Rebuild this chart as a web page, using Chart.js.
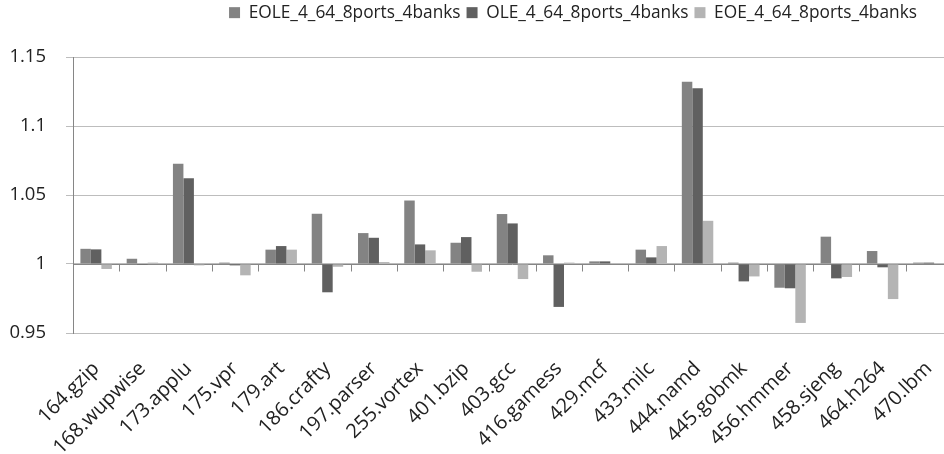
<!DOCTYPE html>
<html>
<head>
<meta charset="utf-8">
<script src="https://cdn.jsdelivr.net/npm/chart.js@4.4.1/dist/chart.umd.min.js"></script>
<style>
    html, body { margin: 0; padding: 0; background: #fff; overflow: hidden; }
    #wrap { width: 952px; height: 454px; }
</style>
</head>
<body>
<div id="wrap"><canvas id="chart"></canvas></div>
<script>
// categories (SPEC benchmarks)
const benchmarks = ['164.gzip', '168.wupwise', '173.applu', '175.vpr', '179.art', '186.crafty',
    '197.parser', '255.vortex', '401.bzip', '403.gcc', '416.gamess', '429.mcf', '433.milc',
    '444.namd', '445.gobmk', '456.hmmer', '458.sjeng', '464.h264', '470.lbm'];

// series values
const eole = [1.011, 1.0038, 1.0726, 1.001, 1.0104, 1.0364, 1.0224, 1.046, 1.0154, 1.0362,
    1.0063, 1.0019, 1.0104, 1.132, 1.001, 0.9828, 1.0198, 1.0094, 1.001];
const ole = [1.0106, 0.9993, 1.0622, 0.999, 1.013, 0.9795, 1.019, 1.0142, 1.0195, 1.0294,
    0.9689, 1.0019, 1.0048, 1.1274, 0.9874, 0.9824, 0.9896, 0.9976, 1.001];
const eoe = [0.9964, 1.001, 0.999, 0.9918, 1.0104, 0.998, 1.0014, 1.0099, 0.9944, 0.9891,
    1.001, 1.0, 1.013, 1.0313, 0.991, 0.9573, 0.9906, 0.9746, 1.0];

const seriesNames = ['EOLE_4_64_8ports_4banks', 'OLE_4_64_8ports_4banks', 'EOE_4_64_8ports_4banks'];
const yTickLabels = ['0.95', '1', '1.05', '1.1', '1.15'];

const FAMILY = "'Open Sans', sans-serif";

// axis line at 1 with tick marks between categories (category axis crosses at 1)
const crossAxis = {
    id: 'crossAxis',
    beforeDatasetsDraw(chart) {
        const { ctx, chartArea, scales: { x, y } } = chart;
        const y1 = Math.round(y.getPixelForValue(1)) + 0.5;
        ctx.save();
        ctx.strokeStyle = '#868686';
        ctx.lineWidth = 1;
        ctx.beginPath();
        ctx.moveTo(chartArea.left, y1);
        ctx.lineTo(chartArea.right, y1);
        for (let i = 1; i < benchmarks.length; i++) {
            const xp = Math.round((x.getPixelForValue(i - 1) + x.getPixelForValue(i)) / 2) + 0.5;
            ctx.moveTo(xp, y1);
            ctx.lineTo(xp, y1 + 7);
        }
        ctx.stroke();
        ctx.restore();
    }
};

// legend block: fixed height, and sits right of centre like the original
const legendPlace = {
    id: 'legendPlace',
    beforeInit(chart) {
        const fit = chart.legend.fit;
        chart.legend.fit = function () {
            fit.call(this);
            this.height = 57;
        };
    },
    afterLayout(chart) {
        const lg = chart.legend;
        lg.left += 97;
        lg.right += 97;
        lg.top -= 2;
    }
};

const ctx = document.getElementById('chart').getContext('2d');
new Chart(ctx, {
    type: 'bar',
    data: {
        labels: benchmarks,
        datasets: [
            { label: seriesNames[0], data: eole, backgroundColor: '#838383', base: 1 },
            { label: seriesNames[1], data: ole, backgroundColor: '#606060', base: 1 },
            { label: seriesNames[2], data: eoe, backgroundColor: '#b4b4b4', base: 1 }
        ]
    },
    options: {
        responsive: true,
        maintainAspectRatio: false,
        animation: false,
        categoryPercentage: 0.68,
        barPercentage: 1,
        layout: { padding: 0 },
        plugins: {
            legend: {
                position: 'top',
                labels: { font: { family: FAMILY, size: 17.3 }, color: '#222', boxWidth: 11, boxHeight: 11, padding: 6 }
            },
            tooltip: { enabled: false }
        },
        scales: {
            x: {
                grid: { display: false },
                border: { display: false },
                ticks: {
                    font: { family: FAMILY, size: 20 },
                    color: '#222',
                    minRotation: 45,
                    maxRotation: 45,
                    autoSkip: false,
                    padding: 16
                },
                afterFit(scale) {
                    scale.height = 121;
                    scale.paddingLeft = 0;
                    scale.paddingRight = 0;
                }
            },
            y: {
                min: 0.95,
                max: 1.15,
                ticks: {
                    stepSize: 0.05,
                    font: { family: FAMILY, size: 18.5 },
                    color: '#222',
                    padding: 20,
                    callback: (v, i) => yTickLabels[i]
                },
                grid: {
                    color: '#bdbdbd',
                    tickLength: 7,
                    lineWidth: 1
                },
                border: { color: '#868686' },
                afterFit(scale) {
                    scale.width = 73;
                }
            }
        }
    },
    plugins: [crossAxis, legendPlace]
});
</script>
</body>
</html>
